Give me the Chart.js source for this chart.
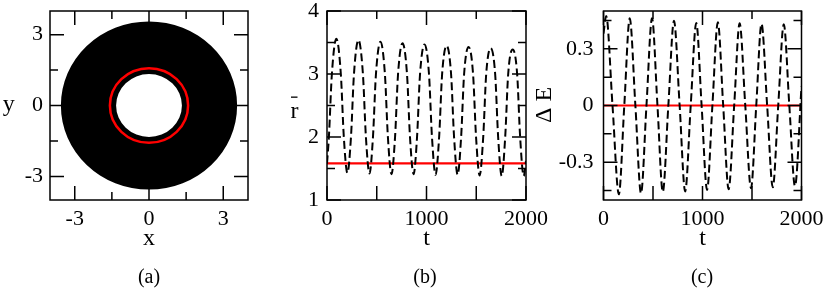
<!DOCTYPE html>
<html>
<head>
<meta charset="utf-8">
<script src="https://cdn.jsdelivr.net/npm/chart.js@4.4.1/dist/chart.umd.min.js"></script>
<style>
  html, body { margin: 0; padding: 0; background: #fff; overflow: hidden; }
  #wrap { position: relative; width: 830px; height: 289px; }
  #wrap canvas { position: absolute; left: 0; top: 0; }
</style>
</head>
<body>
<div id="wrap">
  <canvas id="panel_a" width="830" height="289"></canvas>
  <canvas id="panel_b" width="830" height="289"></canvas>
  <canvas id="panel_c" width="830" height="289"></canvas>
</div>
<script>
// (a) ring filled by the orbit, red = circular orbit
const ringInner = 1.33;
const ringOuter = 3.56;
const orbitRadius = 1.58;

// (b) r-bar against t
const rTime = [0, 19, 49, 94, 139, 169, 205, 241, 271, 316, 361, 391, 427, 462, 492, 537, 582, 612,
  648, 684, 714, 759, 804, 834, 870, 905, 935, 980, 1025, 1055, 1091, 1127, 1157, 1202, 1247, 1277,
  1313, 1348, 1378, 1423, 1468, 1498, 1534, 1570, 1600, 1645, 1690, 1720, 1756, 1791, 1821, 1866,
  1911, 1941, 1977, 2000];
const rValue = [1.58, 2.0, 3.0, 3.56, 3.0, 2.0, 1.43, 2.0, 3.0, 3.54, 3.0, 2.0, 1.42, 2.0, 3.0, 3.51, 3.0, 2.0,
  1.41, 2.0, 3.0, 3.49, 3.0, 2.0, 1.41, 2.0, 3.0, 3.47, 3.0, 2.0, 1.40, 2.0, 3.0, 3.45, 3.0, 2.0,
  1.40, 2.0, 3.0, 3.43, 3.0, 2.0, 1.39, 2.0, 3.0, 3.41, 3.0, 2.0, 1.38, 2.0, 3.0, 3.39,
  3.0, 2.0, 1.38, 1.62];

// (c) delta E against t
const eTime = [0, 27, 91, 155, 210, 265, 322, 379, 434, 490, 545, 599, 655, 712, 769, 825, 881, 937,
  991, 1046, 1100, 1155, 1209, 1264, 1320, 1375, 1432, 1490, 1543, 1596, 1653, 1710, 1765, 1821,
  1877, 1934, 2000];
const eValue = [0.38, 0.474, 0, -0.47, 0, 0.461, 0, -0.465, 0, 0.461, 0, -0.457, 0, 0.448, 0, -0.455, 0, 0.437,
  0, -0.447, 0, 0.44, 0, -0.443, 0, 0.435, 0, -0.438, 0, 0.432, 0, -0.433, 0, 0.43,
  0, -0.426, 0.1];
const eLevel = 0;

// tick labels and minor ticks
const xyTicks = [-3, 0, 3];
const xyMinor = [-1.5, 1.5];
const tTicks = [0, 1000, 2000];
const tMinor = [500, 1500];
const rTicks = [1, 2, 3, 4];
const rMinor = [1.5, 2.5, 3.5];
const eTicks = [-0.3, 0, 0.3];
const eMinor = [-0.45, -0.15, 0.15, 0.45];

const SERIF = "'Liberation Serif', 'Times New Roman', serif";
Chart.defaults.font.family = SERIF;
Chart.defaults.color = "#000";

// frame with inward ticks on all four sides
const frameTicks = {
  id: "frameTicks",
  afterDatasetsDraw(chart, args, opts) {
    const { ctx, chartArea: a } = chart;
    const xs = chart.scales.x, ys = chart.scales.y;
    const big = 14, small = 8;
    ctx.save();
    ctx.strokeStyle = "#000";
    ctx.lineWidth = 1.5;
    ctx.beginPath();
    const xTick = (v, lb, lt) => {
      const p = xs.getPixelForValue(v);
      ctx.moveTo(p, a.bottom); ctx.lineTo(p, a.bottom - lb);
      ctx.moveTo(p, a.top); ctx.lineTo(p, a.top + lt);
    };
    const yTick = (v, len) => {
      const p = ys.getPixelForValue(v);
      ctx.moveTo(a.left, p); ctx.lineTo(a.left + len, p);
      ctx.moveTo(a.right, p); ctx.lineTo(a.right - len, p);
    };
    xs.ticks.forEach(t => xTick(t.value, big, big));
    opts.xMinor.forEach(v => xTick(v, opts.longBottom ? big : small, small));
    ys.ticks.forEach(t => yTick(t.value, big));
    opts.yMinor.forEach(v => yTick(v, small));
    ctx.stroke();
    ctx.strokeRect(a.left, a.top, a.width, a.height);
    ctx.restore();
  }
};

// axis titles and captions
const captions = {
  id: "captions",
  afterDraw(chart, args, opts) {
    const ctx = chart.ctx;
    opts.items.forEach(it => {
      ctx.save();
      ctx.font = it.size + "px " + SERIF;
      ctx.fillStyle = "#000";
      ctx.textAlign = "center";
      ctx.textBaseline = it.base || "alphabetic";
      ctx.translate(it.x, it.y);
      if (it.rot) ctx.rotate(it.rot);
      ctx.fillText(it.text, 0, 0);
      if (it.bar) ctx.fillRect(it.bar[0], it.bar[1], it.bar[2], 1.3);
      ctx.restore();
    });
  }
};

// ring and circular orbit of panel (a), drawn through the scales
const ring = {
  id: "ring",
  beforeDatasetsDraw(chart) {
    const { ctx, chartArea: a } = chart;
    const xs = chart.scales.x, ys = chart.scales.y;
    const cx = xs.getPixelForValue(0), cy = ys.getPixelForValue(0);
    const rx = r => xs.getPixelForValue(r) - cx;
    const ry = r => cy - ys.getPixelForValue(r);
    ctx.save();
    ctx.beginPath();
    ctx.rect(a.left, a.top, a.width, a.height);
    ctx.clip();
    ctx.beginPath();
    ctx.ellipse(cx, cy, rx(ringOuter), ry(ringOuter), 0, 0, Math.PI * 2);
    ctx.moveTo(cx + rx(ringInner), cy);
    ctx.ellipse(cx, cy, rx(ringInner), ry(ringInner), 0, 0, Math.PI * 2);
    ctx.fillStyle = "#000";
    ctx.fill("evenodd");
    ctx.beginPath();
    ctx.ellipse(cx, cy, rx(orbitRadius), ry(orbitRadius), 0, 0, Math.PI * 2);
    ctx.strokeStyle = "#ff0000";
    ctx.lineWidth = 2.5;
    ctx.stroke();
    ctx.restore();
  }
};

Chart.register(frameTicks, captions);

function xAxis(min, max, labels) {
  return {
    type: "linear", min: min, max: max,
    grid: { display: false, drawTicks: false },
    border: { display: false },
    ticks: { font: { size: 22, lineHeight: 1 }, color: "#000", padding: 8.5, maxRotation: 0,
      callback: v => String(v) },
    afterBuildTicks: s => { s.ticks = labels.map(v => ({ value: v })); },
    afterFit: s => { s.height = 89; s.paddingLeft = 0; s.paddingRight = 0; }
  };
}

function yAxis(min, max, labels, pad) {
  return {
    type: "linear", min: min, max: max,
    grid: { display: false, drawTicks: false },
    border: { display: false },
    ticks: { font: { size: 22, lineHeight: 1 }, color: "#000", padding: pad,
      callback: v => String(v) },
    afterBuildTicks: s => { s.ticks = labels.map(v => ({ value: v })); },
    afterFit: s => { s.width = 50; s.paddingTop = 0; s.paddingBottom = 0; }
  };
}

const base = {
  responsive: false,
  animation: false,
  events: [],
};

// (a)
new Chart(document.getElementById("panel_a"), {
  type: "scatter",
  data: { datasets: [] },
  options: Object.assign({}, base, {
    layout: { padding: { left: 0, right: 582, top: 11, bottom: 0 } },
    plugins: {
      legend: { display: false },
      tooltip: { enabled: false },
      frameTicks: { xMinor: xyMinor, yMinor: xyMinor, longBottom: false },
      captions: { items: [
        { text: "y", x: 8.7, y: 111, size: 24 },
        { text: "x", x: 149, y: 245, size: 24 },
        { text: "(a)", x: 149, y: 278, size: 20, base: "middle" }
      ] }
    },
    scales: { x: xAxis(-4, 4, xyTicks), y: yAxis(-4, 4, xyTicks, 7) }
  }),
  plugins: [ring]
});

// (b)
new Chart(document.getElementById("panel_b"), {
  type: "line",
  data: {
    datasets: [
      {
        data: rTime.map((t, i) => ({ x: t, y: rValue[i] })),
        borderColor: "#000",
        borderWidth: 2,
        borderDash: [8, 4],
        pointRadius: 0,
        cubicInterpolationMode: "monotone",
        order: 0
      },
      {
        data: [{ x: tTicks[0], y: orbitRadius }, { x: tTicks[tTicks.length - 1], y: orbitRadius }],
        borderColor: "#ff0000",
        borderWidth: 2.2,
        pointRadius: 0,
        order: 1
      }
    ]
  },
  options: Object.assign({}, base, {
    layout: { padding: { left: 277, right: 304, top: 11, bottom: 0 } },
    plugins: {
      legend: { display: false },
      tooltip: { enabled: false },
      frameTicks: { xMinor: tMinor, yMinor: rMinor, longBottom: true },
      captions: { items: [
        { text: "r", x: 294.5, y: 118, size: 24, bar: [-3.5, -21.5, 6.5] },
        { text: "t", x: 426.5, y: 245, size: 24 },
        { text: "(b)", x: 425, y: 278, size: 20, base: "middle" }
      ] }
    },
    scales: { x: xAxis(0, 2000, tTicks), y: yAxis(1, 4, rTicks, 8) }
  })
});

// (c)
new Chart(document.getElementById("panel_c"), {
  type: "line",
  data: {
    datasets: [
      {
        data: eTime.map((t, i) => ({ x: t, y: eValue[i] })),
        borderColor: "#000",
        borderWidth: 2,
        borderDash: [8, 4],
        pointRadius: 0,
        cubicInterpolationMode: "monotone",
        order: 0
      },
      {
        data: [{ x: tTicks[0], y: eLevel }, { x: tTicks[tTicks.length - 1], y: eLevel }],
        borderColor: "#ff0000",
        borderWidth: 2.2,
        pointRadius: 0,
        order: 1
      }
    ]
  },
  options: Object.assign({}, base, {
    layout: { padding: { left: 553.5, right: 28.5, top: 11, bottom: 0 } },
    plugins: {
      legend: { display: false },
      tooltip: { enabled: false },
      frameTicks: { xMinor: tMinor, yMinor: eMinor, longBottom: true },
      captions: { items: [
        { text: "\u0394 E", x: 545, y: 105, size: 24, base: "middle", rot: -Math.PI / 2 },
        { text: "t", x: 702.5, y: 245, size: 24 },
        { text: "(c)", x: 702, y: 278, size: 20, base: "middle" }
      ] }
    },
    scales: { x: xAxis(0, 2000, tTicks), y: yAxis(-0.5, 0.5, eTicks, 10) }
  })
});
</script>
</body>
</html>
